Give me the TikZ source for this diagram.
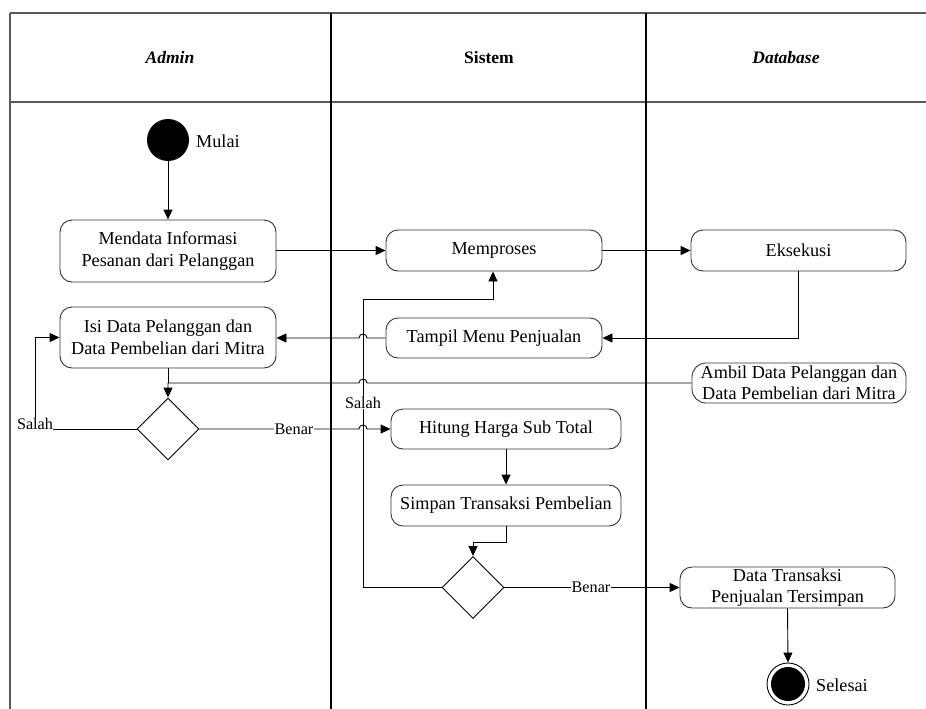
\documentclass[tikz,border=0pt]{standalone}
\usepackage{fontspec}
\setmainfont{Liberation Serif}
\usetikzlibrary{arrows.meta,shapes.geometric,calc}
\begin{document}
\begin{tikzpicture}[x=1pt,y=-1pt,
  frame/.style={draw=black!65,line width=1.6pt},
  lane/.style={draw=black,line width=1.2pt},
  act/.style={draw=black!80,line width=0.9pt,rounded corners=12pt,align=center,
    font=\fontsize{18.2}{21.5}\selectfont,minimum width=216pt,minimum height=41pt,inner sep=1pt},
  dec/.style={draw=black,line width=0.9pt,diamond,aspect=1,inner sep=0pt,minimum width=62pt,minimum height=62pt},
  flow/.style={draw=black,line width=0.9pt,-{Triangle[length=10pt,width=9pt]}},
  plain/.style={draw=black,line width=0.9pt},
  lbl/.style={fill=white,inner sep=0.5pt,font=\fontsize{16.2}{18}\selectfont},
  txt/.style={font=\fontsize{18.2}{21}\selectfont,inner sep=0pt},
  hdr/.style={font=\fontsize{17.5}{20}\selectfont\bfseries}]
\useasboundingbox (0,0) rectangle (926,709);
% swimlane frame
\draw[frame] (10,13) -- (926,13);
\draw[frame] (10,102) -- (926,102);
\draw[frame] (10,13) -- (10,709);
\draw[lane] (331,13) -- (331,709);
\draw[lane] (646,13) -- (646,709);
\node[hdr] (hA) at (170,58) {\itshape Admin};
\node[hdr] (hS) at (489,58) {Sistem};
\node[hdr] (hD) at (786,58) {\itshape Database};
% nodes
\node[circle,fill=black,minimum size=42pt,inner sep=0pt] (start) at (168,140) {};
\node[txt,anchor=west] (mulai) at (196,141) {Mulai};
\node[act,minimum height=62pt] (mendata) at (168,251) {Mendata Informasi\\Pesanan dari Pelanggan};
\node[act,minimum height=61pt] (isi) at (168,337.5) {Isi Data Pelanggan dan\\Data Pembelian dari Mitra};
\node[dec] (d1) at (168,429) {};
\node[act] (memproses) at (494,250.5) {Memproses};
\node[act,minimum height=40pt] (tampil) at (494,338) {Tampil Menu Penjualan};
\node[act,minimum width=230pt,minimum height=40pt] (hitung) at (506,429) {Hitung Harga Sub Total};
\node[act,minimum width=230pt] (simpan) at (506,505.5) {Simpan Transaksi Pembelian};
\node[dec] (d2) at (473,587.5) {};
\node[act,minimum width=215pt] (eksekusi) at (798.5,250.5) {Eksekusi};
\node[act,minimum width=214pt,minimum height=40pt,rounded corners=14pt,inner sep=0pt] (ambil) at (799,383) {Ambil Data Pelanggan dan\\Data Pembelian dari Mitra};
\node[act,minimum width=215pt] (dtrans) at (787.5,587.5) {Data Transaksi\\Penjualan Tersimpan};
\node[circle,draw=black,line width=0.9pt,minimum size=42pt,inner sep=0pt] (endo) at (788,684) {};
\node[circle,fill=black,minimum size=34pt,inner sep=0pt] (endi) at (788,684) {};
\node[txt,anchor=west] (selesai) at (816,685) {Selesai};
% helper coordinates
\coordinate (sx) at (363,0);
\coordinate (cA) at (35,0);
\coordinate (ambilj) at (168,383);
\coordinate (sp1) at (506,542);
\coordinate (sp2) at (473,542);
\coordinate (rt1) at (363,299);
\coordinate (rt2) at (493,299);
% connectors
\draw[flow] (start) -- (mendata);
\draw[flow] (mendata.east |- memproses.west) -- (memproses.west);
\draw[flow] (memproses.east) -- (eksekusi.west);
\draw[flow] (eksekusi.south) -- (eksekusi.south |- tampil.east) -- (tampil.east);
% Tampil -> Isi with hop
\draw[flow] (tampil.west) -- ($(sx |- tampil.west)+(4,0)$)
  .. controls +(0,-5.3) and +(0,-5.3) .. ($(sx |- tampil.west)+(-4,0)$) -- (isi.east |- tampil.west);
\draw[plain] (isi.south) -- (ambilj);
% Ambil -> decision with hop
\draw[flow] (ambil.west) -- ($(sx |- ambil.west)+(4,0)$)
  .. controls +(0,-5.3) and +(0,-5.3) .. ($(sx |- ambil.west)+(-4,0)$) -- (ambilj) -- (d1.north);
% Salah (decision 1)
\draw[flow] (d1.west) -- (cA |- d1.west) -- (cA |- isi.west) -- (isi.west);
\node[lbl] (salah1) at (35,424) {Salah};
% Benar (decision 1) with hop
\draw[flow] (d1.east) -- ($(sx |- d1.east)+(-4,0)$)
  .. controls +(0,-5.3) and +(0,-5.3) .. ($(sx |- d1.east)+(4,0)$) -- (hitung.west);
\node[lbl] (benar1) at (294,429) {Benar};
\draw[flow] (hitung.south) -- (simpan.north);
\draw[flow] (simpan.south) -- (sp1) -- (sp2) -- (d2.north);
% Salah (decision 2) back to Memproses
\draw[flow] (d2.west) -- (sx |- d2.west) -- (rt1) -- (rt2) -- (memproses.south -| rt2);
\node[lbl] (salah2) at (363,403) {Salah};
% Benar (decision 2)
\draw[flow] (d2.east) -- (dtrans.west);
\node[lbl] (benar2) at (591,587.5) {Benar};
\draw[flow] (dtrans.south) -- (endo.north);
\end{tikzpicture}
\end{document}
